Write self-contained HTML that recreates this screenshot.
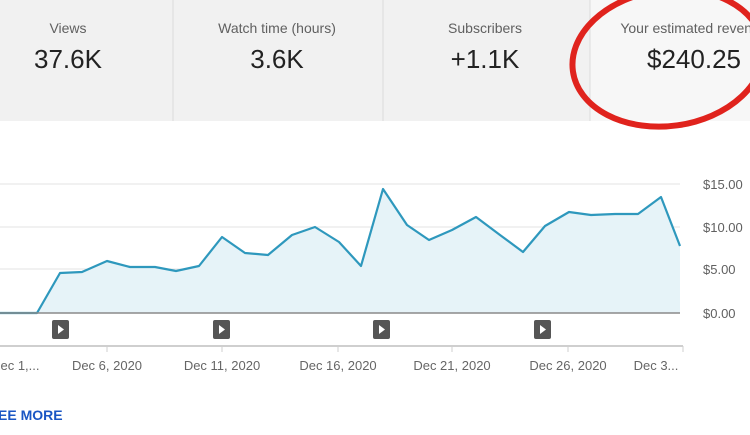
<!DOCTYPE html>
<html><head><style>
body{margin:0;width:750px;height:430px;overflow:hidden;background:#fff;font-family:"Liberation Sans",sans-serif;}
</style></head><body>
<svg width="750" height="430" xmlns="http://www.w3.org/2000/svg" font-family="Liberation Sans, sans-serif">
<rect x="0" y="0" width="590" height="121" fill="#f1f1f1"/>
<rect x="590" y="0" width="160" height="121" fill="#f7f7f7"/>
<line x1="173" y1="0" x2="173" y2="121" stroke="#dcdcdc"/>
<line x1="383" y1="0" x2="383" y2="121" stroke="#dcdcdc"/>
<line x1="590" y1="0" x2="590" y2="121" stroke="#dcdcdc"/>
<g fill="#606060" font-size="14" text-anchor="middle">
<text x="68" y="33">Views</text>
<text x="277" y="33">Watch time (hours)</text>
<text x="485" y="33">Subscribers</text>
<text x="694" y="33">Your estimated revenue</text>
</g>
<g fill="#222" font-size="26" text-anchor="middle">
<text x="68" y="68">37.6K</text>
<text x="277" y="68">3.6K</text>
<text x="485" y="68">+1.1K</text>
<text x="694" y="68">$240.25</text>
</g>
<ellipse cx="668" cy="58" rx="96" ry="68" fill="none" stroke="#e0231d" stroke-width="6" transform="rotate(-8 668 58)"/>
<g stroke="#e3e3e3" stroke-width="1">
<line x1="0" y1="184" x2="680" y2="184"/>
<line x1="0" y1="227" x2="680" y2="227"/>
<line x1="0" y1="269" x2="680" y2="269"/>
</g>
<polygon fill="#e6f3f8" points="0,313 37,313 60,273 82,272 107,261 130,267 155,267 176,271 199,266 222,237 245,253 268,255 292,235 315,227 339,242 361,266 383,189 407,225 429,240 452,230 476,217 500,235 523,252 545,226 569,212 591,215 615,214 638,214 661,197 680,246 680,313"/>
<polyline fill="none" stroke="#2e98bd" stroke-width="2.2" stroke-linejoin="round" points="0,313 37,313 60,273 82,272 107,261 130,267 155,267 176,271 199,266 222,237 245,253 268,255 292,235 315,227 339,242 361,266 383,189 407,225 429,240 452,230 476,217 500,235 523,252 545,226 569,212 591,215 615,214 638,214 661,197 680,246"/>
<line x1="0" y1="313" x2="680" y2="313" stroke="#8a8a8a" stroke-width="1.5"/>
<g fill="#606060" font-size="13">
<text x="703" y="189">$15.00</text>
<text x="703" y="232">$10.00</text>
<text x="703" y="274">$5.00</text>
<text x="703" y="318">$0.00</text>
</g>
<g fill="#555">
<rect x="52" y="320" width="17" height="19" rx="2"/>
<rect x="213" y="320" width="17" height="19" rx="2"/>
<rect x="373" y="320" width="17" height="19" rx="2"/>
<rect x="534" y="320" width="17" height="19" rx="2"/>
</g>
<g fill="#fff">
<polygon points="58,325 58,334 64,329.5"/>
<polygon points="219,325 219,334 225,329.5"/>
<polygon points="379,325 379,334 385,329.5"/>
<polygon points="540,325 540,334 546,329.5"/>
</g>
<line x1="0" y1="346" x2="683" y2="346" stroke="#cfcfcf" stroke-width="2"/>
<g stroke="#cfcfcf"><line x1="107" y1="346" x2="107" y2="352"/><line x1="222" y1="346" x2="222" y2="352"/><line x1="338" y1="346" x2="338" y2="352"/><line x1="452" y1="346" x2="452" y2="352"/><line x1="568" y1="346" x2="568" y2="352"/><line x1="683" y1="346" x2="683" y2="352"/></g>
<g fill="#666" font-size="13" text-anchor="middle">
<text x="20" y="370">ec 1,...</text>
<text x="107" y="370">Dec 6, 2020</text>
<text x="222" y="370">Dec 11, 2020</text>
<text x="338" y="370">Dec 16, 2020</text>
<text x="452" y="370">Dec 21, 2020</text>
<text x="568" y="370">Dec 26, 2020</text>
<text x="656" y="370">Dec 3...</text>
</g>
<text x="-2" y="420" fill="#1a56c4" font-size="14" font-weight="bold">EE MORE</text>
</svg>
</body></html>
